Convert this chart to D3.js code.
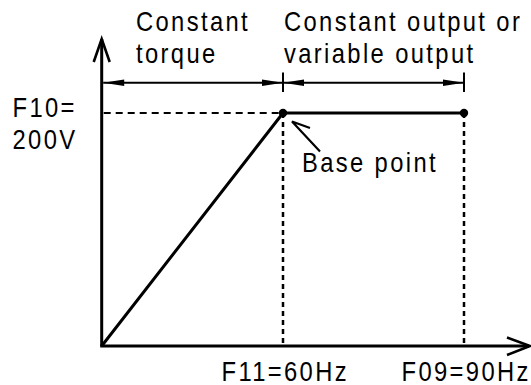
<!DOCTYPE html>
<html>
<head>
<meta charset="utf-8">
<script src="https://cdn.jsdelivr.net/npm/d3@7/dist/d3.min.js"></script>
<style>
  html, body { margin: 0; padding: 0; background: #fff; }
  svg { display: block; }
  text { font-family: "Liberation Sans", Arial, sans-serif; font-size: 27px; letter-spacing: 2.7px; fill: #000; }
</style>
</head>
<body>
<svg id="chart" width="531" height="385"></svg>
<script>
// V/f pattern: output voltage against output frequency (schematic, not to scale)
const freqPoints = [0, 60, 90];          // Hz
const voltPoints = [0, 200, 200];        // V
const baseFreq = 60;                     // F11
const maxFreq = 90;                      // F09
const ratedVolt = 200;                   // F10
const freqTickLabels = ["F11=60Hz", "F09=90Hz"];
const voltTickLabel = ["F10=", "200V"];
const regionLabels = [["Constant", "torque"], ["Constant output or", "variable output"]];
const regionBounds = [[0, 60], [60, 90]];

const svg = d3.select("#chart");
const W = 531, H = 385;
svg.append("rect").attr("width", W).attr("height", H).attr("fill", "#fff");

// piecewise frequency axis: each region gets its own span
const x = d3.scaleLinear().domain([0, baseFreq, maxFreq]).range([101.7, 283, 464]);
const y = d3.scaleLinear().domain([0, ratedVolt]).range([346, 113]);

const g = svg.append("g");

// condensed, widely tracked lettering
function label(tx, ty, t) {
  return g.append("text").attr("transform", `translate(${tx},${ty}) scale(0.88,1)`).text(t);
}

// axes with open chevron heads
g.append("line").attr("x1", x(0)).attr("y1", y(0)).attr("x2", x(0)).attr("y2", 39)
  .attr("stroke", "#000").attr("stroke-width", 3);
g.append("polyline").attr("points", `${x(0) - 8},62 ${x(0)},39 ${x(0) + 8},62`)
  .attr("fill", "none").attr("stroke", "#000").attr("stroke-width", 2.6);
g.append("line").attr("x1", x(0) - 1.5).attr("y1", y(0)).attr("x2", 529).attr("y2", y(0))
  .attr("stroke", "#000").attr("stroke-width", 3);
g.append("polyline").attr("points", `507,337.5 530,${y(0)} 507,355`)
  .attr("fill", "none").attr("stroke", "#000").attr("stroke-width", 2.6);

// dashed guides
g.append("line").attr("x1", x(0) + 2).attr("y1", y(ratedVolt)).attr("x2", x(baseFreq)).attr("y2", y(ratedVolt))
  .attr("stroke", "#000").attr("stroke-width", 2).attr("stroke-dasharray", "7,5");
[baseFreq, maxFreq].forEach(f => {
  g.append("line").attr("x1", x(f)).attr("y1", y(ratedVolt)).attr("x2", x(f)).attr("y2", y(0))
    .attr("stroke", "#000").attr("stroke-width", 2.5).attr("stroke-dasharray", "5,4");
});

// V/f curve
const line = d3.line().x((d, i) => x(freqPoints[i])).y((d, i) => y(voltPoints[i]));
g.append("path").datum(freqPoints).attr("d", line)
  .attr("fill", "none").attr("stroke", "#000").attr("stroke-width", 3).attr("stroke-linejoin", "round");
g.selectAll("circle.pt").data(freqPoints.slice(1)).join("circle")
  .attr("cx", (d) => x(d)).attr("cy", (d, i) => y(voltPoints[i + 1])).attr("r", 4.2).attr("fill", "#000");

// dimension lines for the two regions
const dimY = 82.7;
function arrowHead(tipX, dir) {
  const len = 21, hw = 3.2;
  return `M${tipX},${dimY} L${tipX - dir * len},${dimY - hw} L${tipX - dir * len},${dimY + hw} Z`;
}
regionBounds.forEach(([a, b]) => {
  const x0 = x(a) + (a === 0 ? 1.5 : 0), x1 = x(b);
  g.append("line").attr("x1", x0).attr("y1", dimY).attr("x2", x1).attr("y2", dimY)
    .attr("stroke", "#000").attr("stroke-width", 2);
  g.append("path").attr("d", arrowHead(x0, -1)).attr("fill", "#000");
  g.append("path").attr("d", arrowHead(x1, 1)).attr("fill", "#000");
});
[baseFreq, maxFreq].forEach(f => {
  g.append("line").attr("x1", x(f)).attr("y1", 72.5).attr("x2", x(f)).attr("y2", 92)
    .attr("stroke", "#000").attr("stroke-width", 2);
});

// region captions
const capX = [136, 284];
regionLabels.forEach((lines, i) => {
  lines.forEach((t, j) => label(capX[i], 30.7 + j * 32.5, t));
});

// voltage label
voltTickLabel.forEach((t, j) => label(12.5, 116.8 + j * 32.5, t));

// frequency labels
const fLabelX = [221.5, 401.5];
[baseFreq, maxFreq].forEach((f, i) => label(fLabelX[i], 381, freqTickLabels[i]));

// base point annotation
const bx = x(baseFreq), by = y(ratedVolt);
g.append("polyline")
  .attr("points", `${bx + 27},${by + 15} ${bx + 9},${by + 8.5} ${bx + 37},${by + 38.5}`)
  .attr("fill", "none").attr("stroke", "#000").attr("stroke-width", 2.2);
label(302, 171.7, "Base point");
</script>
</body>
</html>
